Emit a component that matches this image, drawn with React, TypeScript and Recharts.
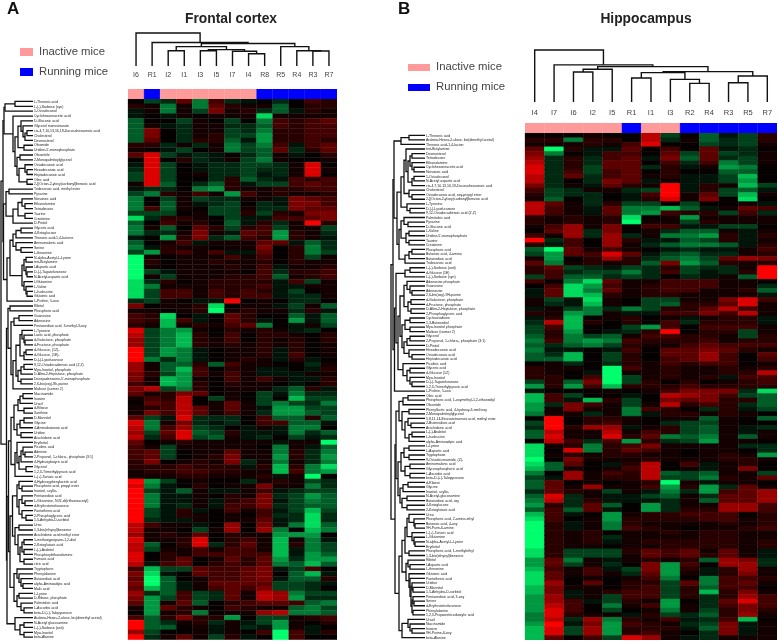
import React from "react";
import { BarChart, Bar, Cell, XAxis, YAxis, ScatterChart, Scatter } from "recharts";

const samplesA = ["I6","R1","I2","I1","I3","I5","I7","I4","R8","R5","R4","R3","R7"];
const samplesB = ["I4","I7","I6","I2","I5","R1","I1","I3","R2","R4","R3","R5","R7"];

const labelsA = ["L-Threonic acid","L-(-)-Sorbose (syn)","1-Octadecanol","Cyclohexaneacetic acid","D-Gluconic acid","Glycerol monostearate","cis-4,7,10,13,16,19-Docosahexaenoic acid","Cholesterol","Desmosterol","Oleamide","Uridine-5'-monophosphate","Oleanitrile","2-Monopalmitoylglycerol","Octadecanoic acid","Hexadecanoic acid","Heptadecanoic acid","Oleic acid","2-[(Octan-2-yloxy)carbonyl]benzoic acid","Tridecanoic acid, methyl ester","Pyrazine","Nonanoic acid","Ethanolamine","Tetradecane","Taurine","Creatinine","D-Pinitol","Glyceric acid","4-Ketoglucose","Threonic acid-1,4-lactone","Aminomalonic acid","Serine","L-threonine","N-alpha-Acetyl-L-Lysine","tert-Butylamine","l-Aspartic acid","D-(-)-Tagatofuranose","N-Acetyl-aspartic acid","l-Glutamine","L-Valine","L-Isoleucine","Glutamic acid","L-Proline, 5-oxo","Ribitol","Phosphoric acid","Guanosine","Adenosine","Pentanedioic acid, 3-methyl-3-oxy","L-Tyrosine","Lactic acid, phosphate","d-Galactose, phosphate","d-Fructose, phosphate","d-Glucose, (1Z)-","d-Glucose, (1E)-","D-(-)-Lyxofuranose","9,12-Octadecadienoic acid (Z,Z)","Myo-Inositol, phosphate","D-Altro-2-Heptulose, phosphate","Deoxyadenosine-5'-monophosphate","2,6-bis(oxy)-9h-purine","Maltose (isomer 2)","Niacinamide","Inosine","Uracil","d-Ribose","Xanthine","D-Mannitol","Glycine","4-Aminobutanoic acid","Uridine","Arachidonic acid","Erythritol","Picolinic acid","Adenine","2-Propanol, 1-chloro-, phosphate (3:1)","4-Hydroxybutyric acid","Glycerol","1,2,3-Trimethylpyruvic acid","L-(+)-Tartaric acid","4-Hydroxyphenylacetic acid","Phosphoric acid, propyl ester","Inositol, scyllo-","Pentanedioic acid","L-Glutamine, N,N'-di(trifluoroacetyl)","d-Erythrotetrofuranose","Pantothenic acid","2-Phosphoglyceric acid","1,5-Anhydro-D-sorbitol","Urea","1,3-bis(ethynyl)benzene","Arachidonic acid methyl ester","1-methoxypropane-1,2-diol","2-Ketoglutaric acid","L-(-)-Arabitol","Phosphorylethanolamine","Fumaric acid","citric acid","Tryptophane","Phenylalanine","Butanedioic acid","alpha-Aminoadipic acid","Malic acid","L-Lysine","D-Ribose, phosphate","Palmitoleic acid","L-Ascorbic acid","beta-D-(+)-Talopyranose","Arabino-Hexos-2-ulose, bis(dimethyl acetal)","N-Acetyl glucosamine","L-(-)-Sorbose (anti)","Myo-Inositol","beta-Alanine"];

const rowsA = [
[0,-3,-2,4,-5,3,-2,-1,0,-2,0,3,2],[2,1,-5,1,-5,4,2,1,1,-4,0,2,2],[-1,1,-5,1,-3,5,1,2,-2,-4,-1,2,1],[-1,0,-1,1,0,1,1,1,-8,1,1,1,1],
[-4,0,0,-3,1,0,-3,0,-5,3,2,3,4],[-4,1,-1,-2,1,1,-2,-2,-4,3,2,3,3],[-4,5,0,-2,1,1,-3,-2,-5,2,2,3,3],[-4,5,0,-2,1,2,-3,-3,-6,2,2,3,3],
[-4,4,0,-2,2,2,-4,-1,-6,2,2,3,2],[2,2,-2,1,-2,1,-5,-3,-5,3,-1,3,4],[1,0,-1,-3,0,1,-5,-3,-4,4,-2,2,4],[4,8,-3,-1,-2,-1,0,-2,-4,1,-1,0,2],
[0,8,0,2,-2,-1,1,-3,-5,1,0,0,1],[-1,8,-3,0,-1,-2,-2,-3,-3,-2,1,8,0],[-2,8,-3,0,-1,-2,-2,-3,-2,-2,1,8,1],[-3,8,-3,0,1,-2,-2,-3,-1,-2,1,8,0],
[-3,8,-3,0,0,-2,2,-4,-2,-1,3,2,3],[1,8,-4,0,-2,-4,2,-1,-3,-3,3,4,3],[-1,-2,-2,0,-5,-6,2,1,1,2,2,3,3],[-3,-5,2,1,3,1,-6,3,1,2,1,1,2],
[-5,0,-3,1,-3,-2,-2,1,1,-1,5,4,3],[-5,0,-4,1,-1,-2,-3,0,-2,-1,5,5,3],[-5,3,-4,1,0,-3,-3,1,-2,-2,5,4,4],[-3,-3,-3,0,1,-3,-3,2,-3,2,1,5,5],
[-8,-2,2,2,1,0,-3,-1,-1,3,3,4,5],[-4,0,3,1,2,0,-4,-1,2,-2,1,9,2],[-5,1,-4,0,4,2,-3,2,3,-3,1,1,-3],[-5,-2,-2,1,5,1,-1,4,3,-6,2,1,-2],
[-1,0,-6,2,5,-2,-4,3,2,-6,2,1,-1],[-4,0,1,3,-1,1,1,1,4,4,-1,-4,-2],[-5,-1,2,1,1,0,1,1,5,0,2,-5,-2],[-3,-6,2,3,1,3,-1,-1,4,0,2,-5,-3],
[-9,1,0,1,1,1,3,1,3,0,2,-3,1],[-9,2,0,1,1,2,1,1,2,0,2,1,1],[-9,1,0,1,1,1,2,1,3,-1,1,1,2],[-9,-3,-1,1,1,1,1,0,3,-2,2,2,3],
[-9,1,-3,1,1,1,2,2,3,-4,1,2,3],[-8,-2,2,0,1,2,2,2,2,-1,3,-3,1],[-8,-5,1,1,1,2,2,2,3,-1,-1,1,1],[-8,-3,3,3,1,3,2,3,2,-1,-3,0,1],
[-8,-3,3,3,1,3,2,3,3,-1,-2,-2,1],[-2,-3,1,0,-1,-1,9,0,1,0,-2,-2,0],[5,0,1,1,2,-8,0,1,1,-1,-3,1,-4],[1,1,0,1,2,-9,1,2,1,1,-2,2,-1],
[3,2,-8,0,-1,0,4,2,0,0,-4,-1,-4],[3,2,-7,3,-1,0,4,2,-1,0,-6,-1,-4],[2,1,-7,1,2,1,3,4,-5,0,-1,1,-3],[8,-3,-5,-6,1,0,2,1,2,1,-1,-2,0],
[7,-3,-5,-7,2,0,3,0,2,2,1,0,2],[6,-3,-5,-7,2,1,3,0,2,1,2,0,2],[6,-3,-5,-7,2,1,2,1,2,1,2,0,1],[9,-3,-6,-5,-1,0,1,1,2,-1,2,0,1],
[9,-3,-6,-5,-1,0,1,1,2,-1,3,0,1],[9,-5,-2,-5,-1,0,1,2,1,-1,2,-1,0],[6,1,-4,-4,2,-4,3,1,1,0,0,-2,1],[6,1,-4,-7,3,0,2,1,-1,-1,0,-1,2],
[5,2,-3,-6,3,1,3,1,-1,-1,-1,1,1],[5,1,-7,-6,1,0,3,1,3,1,-1,-1,2],[3,1,-7,-6,2,0,2,1,1,0,-1,0,2],[5,7,-3,-5,2,0,1,1,1,-2,-4,2,-1],
[4,1,2,5,4,0,1,0,-3,-1,-5,-2,-2],[1,3,2,7,0,-3,1,0,-3,0,-7,-3,-3],[0,4,3,7,0,1,4,1,-3,-5,-3,-2,-5],[1,2,3,7,4,1,4,1,-1,-6,-6,-3,-3],
[1,5,3,7,4,1,3,1,-2,-6,-6,-4,-3],[4,-3,-1,8,-2,-2,-2,0,3,-4,-4,2,-4],[8,-5,1,5,-2,-1,-2,0,3,3,-4,-4,-1],[7,-5,3,6,-3,-2,0,-1,1,-1,-5,-5,0],
[6,-3,4,8,-4,-3,2,-1,-1,-1,-5,-2,-4],[7,-2,3,8,-3,-4,1,-1,-2,0,-3,-1,-2],[4,0,1,2,1,1,1,1,1,-1,1,1,-9],[3,1,-3,1,1,1,1,1,0,-5,1,-1,-4],
[3,4,-3,0,1,1,4,1,1,-5,2,-2,-5],[3,4,-3,0,1,2,5,1,1,-6,2,-2,-6],[2,5,0,1,2,1,5,-2,1,-5,1,-2,-5],[2,2,2,3,2,2,2,-1,2,-7,2,-5,-8],
[1,2,2,3,3,2,2,1,1,-7,3,-5,-6],[1,1,1,2,2,1,1,1,2,-1,1,-9,0],[9,-6,-3,0,1,0,0,-2,1,2,1,-3,-2],[8,-5,-1,0,2,0,1,1,5,1,1,-5,-2],
[9,-3,-1,-4,1,-1,-1,1,3,-1,-2,-3,-3],[9,-5,-1,-1,1,0,2,1,5,-2,-3,-6,-4],[9,-5,-1,-1,1,-1,2,3,5,-1,-3,-5,-4],[9,-5,-1,-2,1,-1,3,3,5,-2,-3,-4,-4],
[9,-3,-1,2,-1,0,3,1,3,-1,-3,-7,-3],[9,-3,-1,2,1,0,1,0,3,-2,-2,-8,-2],[9,-2,-1,-1,1,0,1,1,4,-1,-2,-8,-2],[7,3,1,1,-1,0,6,0,5,-1,-5,-8,-4],
[7,1,1,0,-3,1,6,0,6,-5,0,-7,-5],[6,1,2,1,4,0,2,1,1,-6,-6,-6,0],[8,1,1,2,8,0,2,3,1,-7,1,-5,-1],[7,-4,0,2,8,-2,2,4,1,-7,2,-5,-3],
[7,-3,1,1,3,1,3,3,1,-7,-1,-5,-3],[8,0,2,1,3,3,3,3,3,-7,-1,-6,-4],[8,0,2,4,0,1,4,2,4,-6,-2,-6,-6],[7,-1,3,4,0,2,3,2,4,-5,-4,-7,-4],
[3,-7,-3,-3,4,3,3,4,5,-1,-3,3,0],[5,-8,-1,0,4,3,3,4,5,0,-4,-7,-1],[4,-9,-4,0,1,3,3,4,5,-1,-4,-4,2],[5,-9,-4,-1,1,4,4,4,4,-3,-3,-2,-1],
[4,-7,-4,-1,1,3,4,3,5,-3,-3,-2,0],[6,-2,-4,3,-3,-2,4,1,7,6,-5,-3,-3],[5,-6,-3,3,-3,-2,4,1,7,6,-6,-2,-2],[4,-6,1,4,-4,0,2,3,4,4,3,-4,-5],
[1,-6,4,2,1,0,3,2,1,1,-4,-5,-3],[0,-6,1,2,-5,0,1,1,6,7,-5,-5,-4],[3,-4,2,5,2,2,-6,0,-3,-3,1,2,3],[9,-4,-2,1,2,-2,1,-1,-3,-6,1,0,2],
[9,-4,-4,0,1,-1,1,-2,-1,-6,1,-1,0],[6,-3,0,0,1,-1,1,0,3,-9,3,-1,2],[9,-2,1,4,1,-3,2,-1,0,-9,3,0,0],
];

const labelsB = ["L-Threonic acid","Arabino-Hexos-2-ulose, bis(dimethyl acetal)","Threonic acid-1,4-lacton","tert-Butylamine","Desmosterol","Tetradecane","Ethanolamine","Cyclohexaneacetic acid","Nonanoic acid","1-Octadecanol","N-Acetyl aspartic acid","cis-4,7,10,13,16,19-Docosahexaenoic acid","Cholesterol","Octadecanoic acid, oxy-propyl ester","2-[(Octan-2-yloxy)carbonyl]benzoic acid","L-Tyrosine","D-(-)-Lyxofuranose","9,12-Octadecadienoic acid (Z,Z)","Palmitoleic acid","Pyrazine","D-Gluconic acid","L-Valine","Uridine-5'-monophosphate","Taurine","Creatinine","Phosphoric acid","Butanoic acid, 4-amino","Butanedioic acid","Tridecanoic acid","L-(-)-Sorbose (anti)","d-Glucose (1E)","L-(-)-Sorbose (syn)","Adenosine phosphate","Guanosine","Adenosine","2,6-bis(oxy)-9H-purine","d-Galactose, phosphate","d-Fructose, phosphate","D-Altro-2-Heptulose, phosphate","2-Phosphoglyceric acid","Cyclooctadione","1,3-Butanediol","Myo-Inositol phosphate","Maltose (isomer 2)","Glycerol","2-Propanol, 1-chloro-, phosphate (3:1)","D-Pinitol","Hexadecanoic acid","Octadecanoic acid","Heptadecanoic acid","Picolinic acid","Glyceric acid","d-Glucose (1Z)","Myo-Inositol","D-(-)-Tagatofuranose","1,2,3-Trimethylpyruvic acid","L-Proline, 5-oxo","Oleic acid","Phosphoric acid, 1-oxymethyl-1,2-ethanediyl","Oleamide","Phenyllactic acid, 4-hydroxy-3-methoxy","2-Monopalmitoylglycerol","5,8,11,14-Eicosatetraenoic acid, methyl ester","2-Butenedioic acid","Arachidonic acid","L-(-)-Arabitol","L-Isoleucine","alpha-Aminoadipic acid","L-Lysine","L-Aspartic acid","Tryptophane","9-Octadecenamide, (Z)-","Aminomalonic acid","Glycerophosphoric acid","L-Ascorbic acid","beta-D-(+)-Talopyranose","d-Ribose","Glycine","Inositol, scyllo-","N-Acetyl-glucosamine","Butanedioic acid, oxy","4-Ketoglucose","2-Ketoglutaric acid","Urea","Phosphoric acid, 2-amino-ethyl","Butanoic acid, 4-oxy","9H-Purin-6-amine","L-(+)-Tartaric acid","L-Glutamine","N-alpha-Acetyl-L-Lysine","Erythritol","Phosphoric acid, 1-methylethyl","1,3-bis(ethynyl)benzene","Ribitol","l-Aspartic acid","L-threonine","Glutamic acid","Pantothenic acid","Uridine","D-Mannitol","1,5-Anhydro-D-sorbitol","Pentanedioic acid, 3-oxy","Serine","d-Erythrotetrofuranose","Phenylalanine","1,2,3-Propanetricarboxylic acid","Uracil","Niacinamide","Inosine","9H-Purine-6-oxy","beta-Alanine"];

const rowsB = [
[0,0,0,1,0,0,7,-3,0,-4,-1,-3,2],[2,2,-5,2,2,0,7,-2,1,-4,-2,-3,2],[1,1,1,2,1,3,8,0,0,-3,-2,-3,1],[4,-9,2,-1,-1,4,0,3,0,4,-1,-2,0],
[5,-5,0,-1,3,3,0,4,-3,4,-3,-2,1],[6,-2,2,-2,3,4,-1,5,-4,4,-2,-3,1],[7,-2,2,-2,4,4,0,3,-2,3,-5,-3,1],[8,-2,2,-3,4,4,-2,2,-1,1,-6,-5,0],
[8,-2,3,-3,3,4,0,2,0,0,-4,-4,0],[7,-2,4,-2,3,4,1,2,-1,-1,-3,-7,0],[7,-2,0,-2,5,4,-1,1,-1,-1,-3,-6,0],[5,-2,1,-1,4,2,1,9,-1,2,1,-7,-3],
[3,-3,-2,1,1,-2,-3,9,-1,2,-3,-4,-1],[2,-3,-2,-2,0,-1,3,9,1,4,-3,-7,1],[1,-4,0,-2,0,-1,2,8,1,5,0,-8,0],[7,4,1,-2,2,-3,-3,0,-3,0,0,1,-1],
[7,3,1,-1,4,-5,-5,-7,-4,-1,1,4,3],[7,3,1,-1,4,-5,-6,3,2,2,-3,3,-2],[2,1,2,1,2,-8,0,1,-6,1,1,1,1],[2,1,2,1,2,-9,1,1,-3,2,1,1,1],
[1,3,6,1,5,0,3,3,-1,-1,-3,-3,0],[0,4,6,-2,5,0,1,-2,-4,-4,1,-1,1],[3,1,6,-2,6,-2,1,-5,-5,-6,2,-1,2],[9,-2,3,0,6,2,-1,-1,-4,-3,2,-1,1],
[2,-1,3,0,6,1,-2,-4,-5,-5,-4,-1,2],[-4,-9,4,1,3,1,0,-1,-2,-1,-1,1,3],[-3,-6,4,3,8,4,-1,-3,-4,-2,-2,1,2],[1,-6,0,2,6,2,-2,-4,-5,-3,4,6,5],
[4,-5,1,2,1,2,-4,5,-6,-4,2,1,2],[2,4,-3,-2,-1,-3,-2,2,-3,-2,-2,1,9],[2,3,-2,-3,-3,-5,-2,3,-3,-1,-2,2,9],[-3,3,-4,-4,-2,-3,-2,0,-2,-1,1,-4,9],
[3,0,-5,-8,4,1,1,3,3,3,1,1,0],[0,3,-8,-6,3,1,2,3,3,3,1,1,-2],[-1,4,-8,-5,4,1,2,3,3,1,1,2,-4],[-1,4,-8,-7,2,1,2,2,1,1,1,1,-1],
[1,-3,-1,-8,1,0,-3,-3,1,1,5,8,3],[1,-2,-1,-7,1,0,-3,-4,2,2,4,8,1],[-1,1,-3,-5,-2,-5,-3,2,2,4,7,3,1],[2,1,-6,-5,1,-1,-1,3,3,5,3,7,1],
[-1,2,-7,0,1,2,0,1,-1,1,2,2,-1],[-2,7,-7,2,0,2,0,3,-2,2,2,2,-1],[-3,3,-7,0,0,-3,-6,3,0,3,3,3,1],[-3,2,-6,0,-1,-2,2,9,0,2,2,-3,1],
[-4,2,-5,-3,-4,1,3,3,2,2,1,-3,2],[-5,3,-5,-6,-5,3,2,2,2,3,1,2,2],[-4,-2,-4,-5,-3,2,1,1,3,4,3,3,3],[-5,-1,-1,0,-1,3,0,4,4,5,4,2,1],
[-4,-2,-7,0,-3,2,0,4,4,6,3,0,4],[-4,-4,-7,0,-3,2,0,3,4,6,3,0,3],[0,1,-2,0,-2,2,1,3,2,3,3,0,1],[2,1,1,0,-9,3,1,2,1,1,2,1,2],
[2,1,0,-1,-9,1,1,2,1,1,2,2,7],[2,2,0,3,-9,-3,1,2,1,2,-1,3,3],[-3,2,-4,5,-9,-3,2,0,2,0,1,2,3],[-6,2,-6,3,-7,2,2,2,3,2,2,2,2],
[-1,0,0,0,1,0,1,3,5,5,5,-2,-8],[-7,3,-3,0,0,-1,0,7,6,5,3,-3,-4],[-7,3,-1,-7,2,-3,0,5,4,5,2,2,-4],[-6,-2,5,3,1,-3,1,7,2,3,2,-2,-4],
[-6,1,5,1,1,-5,3,2,0,-2,2,-1,-3],[-5,1,1,-2,1,-5,-1,2,2,1,2,1,0],[0,9,0,2,2,1,0,1,1,-4,1,0,-4],[-3,9,0,2,3,1,0,-2,-3,-3,1,0,0],
[-2,9,2,6,6,-1,1,2,-3,-4,1,-1,-2],[-4,7,1,1,7,1,3,2,-3,-4,1,-1,1],[-4,8,1,1,8,2,4,-5,-4,-5,1,-4,1],[0,7,3,-2,3,-6,2,-2,-3,-6,1,1,0],
[-8,1,2,-5,2,3,5,1,1,1,1,-2,-2],[-8,0,8,-5,2,4,3,1,0,1,1,0,-2],[-8,1,2,1,2,2,1,1,0,1,2,1,-6],[-9,0,5,1,1,1,2,1,1,1,2,2,1],
[-8,-4,4,0,-1,2,7,0,3,-1,1,2,0],[-7,-4,1,0,1,3,7,0,1,-1,1,5,0],[-5,0,6,1,3,2,7,-4,-3,-4,1,1,-3],[-3,-1,6,1,2,2,7,-3,-3,-5,2,1,4],
[-4,4,0,1,0,1,2,-9,1,-1,1,1,0],[-4,4,1,6,1,1,3,-6,2,-6,-2,4,1],[-2,4,2,1,-3,1,-1,-5,-2,-6,3,4,6],[-4,8,-2,1,-1,-1,-3,-4,1,-2,4,4,6],
[-5,7,-2,2,-1,-1,-1,-2,1,-4,4,4,6],[-6,2,-2,4,-4,0,-6,-2,1,1,6,6,3],[-4,3,-4,4,-1,0,-6,-2,2,2,6,6,3],[-7,3,-1,0,-6,1,2,2,3,3,3,0,2],
[-8,3,0,1,-6,2,2,2,2,3,3,1,2],[-9,2,-1,1,-5,2,1,1,1,1,2,1,2],[-9,2,-1,1,-5,3,2,1,0,1,1,2,3],[-9,2,1,2,0,1,1,2,1,2,2,1,1],
[-9,2,1,2,-2,1,1,1,1,2,2,1,1],[-9,2,1,2,-1,1,2,2,2,2,2,1,2],[-9,2,1,1,0,1,1,2,2,2,2,1,2],[-8,2,-3,-3,-3,2,4,3,4,1,4,1,-1],
[-8,2,-3,-3,-3,1,4,3,4,2,4,1,-1],[-6,4,-5,1,-1,1,2,1,2,-4,6,5,-2],[-6,4,-3,1,-2,0,5,-6,3,0,6,6,-2],[-7,3,1,3,-1,-3,5,-6,2,-1,2,6,1],
[-8,4,1,3,1,-2,4,-6,1,-1,2,5,1],[-8,4,0,1,0,1,3,-5,0,-5,3,3,2],[-8,6,0,4,0,2,2,-3,4,-5,3,4,1],[-7,5,1,1,0,2,3,-3,2,-4,3,3,0],
[-7,5,-1,1,2,3,3,-3,2,-7,2,5,1],[-6,6,-1,1,-3,3,3,-3,2,-2,2,6,3],[-6,6,3,-1,-3,2,1,-6,0,-2,4,8,3],[-6,7,3,0,-5,1,3,-6,1,-2,3,5,3],
[-6,8,3,0,-3,0,1,-5,1,-3,2,5,2],[-5,8,2,1,1,-1,2,-3,-2,-4,2,6,1],[-5,7,-2,6,-5,2,1,3,-1,-2,3,-7,0],[-6,9,-1,5,-6,3,2,1,-2,-3,5,-1,1],
[-7,8,-3,6,-6,2,2,2,-1,-4,5,-1,1],[-7,8,-3,6,-6,2,3,1,0,-2,5,-1,1],[-7,4,0,3,-3,8,6,1,-1,-2,1,1,1],
];

// Dendrograms as nested [merge height, left, right]; 0 is a leaf.
type Tree = 0 | [number, Tree, Tree];

const colTreeA: Tree = [32.3, 0, [23, 0, [22,
  [19, [15, 0, 0], [16, [15, 0, 0], [14.5, 0, [12, 0, 0]]]],
  [19, 0, [15, 0, [14.7, 0, 0]]]]]];

const colTreeB: Tree = [51.4, 0, [36.7, 0, [35,
  [32.4, [29.7, 0, 0], 0],
  [30, [29, [23.7, 0, 0], [22.4, 0, [18.4, 0, 0]]], [25.7, [19, 0, 0], 0]]]]];

const rowTreeA: Tree = [1,
  [3,
    [4, [5, [15, 0, 0], 0],
      [13, 0, [15,
        [18, [21, 0, [23, 0, [25, [27, 0, 0], 0]]], [24, 0, 0]],
        [17, [20, 0, 0], [19, [25, 0, [27, 0, 0]], [27, 0, 0]]]]]],
    [3.5,
      [6, [9, 0, 0], [13, [18, [22, 0, [25, 0, 0]], [25, 0, 0]], 0]],
      [7, [10,
        [13, [16, [21, 0, 0], 0], [16, 0, [21, 0, 0]]],
        [22, [24, [26, 0, 0], [26, 0, [27, 0, 0]]], [24, 0, [26, 0, [27, 0, 0]]]]], 0]]],
  [6.5,
    [8, [10, 0, 0], [11, [14, [19, 0, 0], 0],
      [13, [16,
        [20, [22, 0, [24, 0, [25, 0, 0]]], [24, [26, 0, 0], 0]],
        [18, [21, [24, 0, 0], 0], [21, 0, 0]]], 0]]],
    [7,
      [8.5,
        [11,
          [14, [18, [20, [23, 0, 0], 0], [24, 0, 0]], [17, [20, [24, 0, 0], 0], [21, 0, 0]]],
          [15, [17, 0, [19, [21, [23, 0, [25, 0, 0]], 0], [26, 0, 0]]], 0]],
        [10,
          [12.5,
            [17, [19, 0, [22, 0, 0]], [19, [22, 0, [25, 0, 0]], [22, 0, [26, 0, 0]]]],
            [15, [19, 0, 0], [18, 0, [20, [22, [24, 0, 0], [24, 0, 0]], [24, 0, 0]]]]],
          [14, [17, 0, [19, 0, [21, 0, [23, 0, 0]]]], [17, [19, 0, 0], [21, 0, [24, 0, 0]]]]]],
      [15, 0, [20, [24, 0, 0], [24, 0, 0]]]]]];

const rowTreeB: Tree = [6,
  [8,
    [9, [16, [24, 0, 0], 0],
      [12,
        [16, [19, [21, 0, [23, [25, [27, 0, 0], [27, 0, [29, 0, 0]]], [27, [29, 0, 0], 0]]], [24, 0, [27, 0, 0]]], [22, 0, [25, 0, 0]]],
        [14, [16, [19, 0, [23, 0, 0]], [21, [24, 0, 0], [24, 0, 0]]], [20, [24, [27, 0, 0], 0], 0]]]],
    [9.5, [11, [20, [25, 0, 0], 0],
      [13,
        [15, [19, [22, 0, [25, 0, [27, 0, 0]]], [23, [26, 0, 0], [26, 0, 0]]],
          [17, [20, [25, 0, 0], [25, 0, 0]], [19, [22, [25, 0, 0], 0], [24, 0, [27, 0, 0]]]]],
        [18, 0, [22, [25, 0, 0], [25, 0, [27, 0, 0]]]]]], 0]],
  [10,
    [11,
      [14, [18, [23, 0, 0], 0], [17, [24, 0, 0], [20, [23, 0, [26, 0, 0]], [24, [27, 0, 0], 0]]]],
      [13, [16, [19, [24, 0, 0], [24, 0, 0]], [20, [25, 0, 0], [25, 0, 0]]],
        [15, [18, [23, 0, 0], 0], [17, [22, 0, 0], [22, 0, 0]]]]],
    [14,
      [17,
        [20, [22, [24, 0, [29, 0, [30, 0, 0]]], [27, 0, [29, 0, [30, 0, 0]]]], [24, 0, 0]],
        [21, [23, 0, [25, 0, 0]], [24, 0, [25, 0, [26, [27, 0, [28, 0, 0]], [27, [28, 0, [29, 0, 0]], [28, 0, 0]]]]]]],
      [17, [23, 0, [25, 0, [27, 0, 0]]], 0]]]];

const FONT = '"Liberation Sans", Arial, sans-serif';
const PINK = "#ff9a9a";
const BLUE = "#0000ff";
const LINE = "#111";

function heat(v: number) {
  const t = Math.pow(Math.abs(v) / 9, 1.3);
  if (v >= 0) return `rgb(${Math.round(6 + 249 * t)},0,0)`;
  return `rgb(0,${Math.round(6 + 249 * t)},${Math.round(3 + 105 * t)})`;
}

type Pt = { x: number; y: number };

// Walks a tree, numbering leaves in order and placing each merge at its children's midpoint.
function links(tree: Tree, leafHeight: number, horizontal: boolean): Pt[][] {
  let next = 0;
  const out: Pt[][] = [];
  const at = (pos: number, h: number): Pt => (horizontal ? { x: h, y: pos } : { x: pos, y: h });
  const walk = (n: Tree): { pos: number; h: number } => {
    if (n === 0) return { pos: next++, h: leafHeight };
    const l = walk(n[1]);
    const r = walk(n[2]);
    out.push([at(l.pos, l.h), at(l.pos, n[0]), at(r.pos, n[0]), at(r.pos, r.h)]);
    return { pos: (l.pos + r.pos) / 2, h: n[0] };
  };
  walk(tree);
  return out;
}

const place = (left: number, top: number): React.CSSProperties => ({ position: "absolute", left, top });

function Dendrogram({ tree, samples, left, top, width, height, maxH, fontSize, tickMargin }: any) {
  const ls = links(tree, 0, false);
  const ticks = samples.map((_: string, i: number) => i);
  return (
    <div style={place(left, top)}>
      <ScatterChart width={width} height={height} margin={{ top: 1, right: 0, bottom: 0, left: 0 }}>
        <XAxis type="number" dataKey="x" domain={[-0.5, samples.length - 0.5]} ticks={ticks} interval={0}
          tickFormatter={(i: number) => samples[i]} axisLine={false} tickLine={false} height={18} tickMargin={tickMargin}
          tick={{ fontSize, fill: "#444", fontFamily: FONT }} />
        <YAxis type="number" dataKey="y" domain={[0, maxH]} hide />
        {ls.map((pts, i) => (
          <Scatter key={i} data={pts} line={{ stroke: LINE, strokeWidth: 1.4 }} shape={() => <g />} isAnimationActive={false} />
        ))}
      </ScatterChart>
    </div>
  );
}

function RowTree({ tree, left, top, width, height, count, leafAt }: any) {
  const ls = links(tree, leafAt, true);
  return (
    <div style={place(left, top)}>
      <ScatterChart width={width} height={height} margin={{ top: 0, right: 0, bottom: 0, left: 0 }}>
        <XAxis type="number" dataKey="x" domain={[0, width]} hide />
        <YAxis type="number" dataKey="y" domain={[-0.5, count - 0.5]} reversed hide />
        {ls.map((pts, i) => (
          <Scatter key={i} data={pts} line={{ stroke: LINE, strokeWidth: 1.3 }} shape={() => <g />} isAnimationActive={false} />
        ))}
      </ScatterChart>
    </div>
  );
}

function GroupBar({ samples, left, top, width, height }: any) {
  const row: any = { name: "group" };
  samples.forEach((s: string) => (row[s] = 1));
  return (
    <div style={place(left, top)}>
      <BarChart layout="vertical" width={width} height={height} data={[row]} barCategoryGap={0} margin={{ top: 0, right: 0, bottom: 0, left: 0 }}>
        <XAxis type="number" domain={[0, samples.length]} hide />
        <YAxis type="category" dataKey="name" hide />
        {samples.map((s: string) => {
          const c = s[0] === "I" ? PINK : BLUE;
          return <Bar key={s} dataKey={s} stackId="g" fill={c} stroke={c} strokeWidth={0.3} isAnimationActive={false} />;
        })}
      </BarChart>
    </div>
  );
}

function Heatmap({ samples, labels, rows, left, top, width, height, labelWidth, fontSize }: any) {
  const data = rows.map((_: number[], i: number) => {
    const d: any = { name: labels[i] };
    samples.forEach((s: string) => (d[s] = 1));
    return d;
  });
  const tick = (p: any) => (
    <text x={0} y={p.y} dy="0.35em" fontSize={fontSize} fill="#222" fontFamily={FONT} textAnchor="start">{p.payload.value}</text>
  );
  return (
    <div style={place(left, top)}>
      <BarChart layout="vertical" width={width} height={height} data={data} barCategoryGap={0} margin={{ top: 0, right: 0, bottom: 0, left: 0 }}>
        <XAxis type="number" domain={[0, samples.length]} hide />
        <YAxis type="category" dataKey="name" width={labelWidth} interval={0} axisLine={false} tickLine={false} tick={tick} />
        {samples.map((s: string, j: number) => (
          <Bar key={s} dataKey={s} stackId="h" isAnimationActive={false}>
            {rows.map((r: number[], i: number) => (
              <Cell key={i} fill={heat(r[j])} stroke={heat(r[j])} strokeWidth={0.3} />
            ))}
          </Bar>
        ))}
      </BarChart>
    </div>
  );
}

function Txt({ x, y, size, bold, color, center, children }: any) {
  return (
    <div style={{ position: "absolute", left: center ? x - 100 : x, top: y - size * 0.6, width: center ? 200 : undefined, textAlign: center ? "center" : "left",
      fontSize: size, lineHeight: `${size * 1.2}px`, fontWeight: bold ? 700 : 400, color, whiteSpace: "nowrap", fontFamily: FONT }}>{children}</div>
  );
}

function PanelLetter({ x, children }: any) {
  return (
    <div style={{ position: "absolute", left: x, top: 0, fontSize: 17, lineHeight: "17px", fontWeight: 700, color: "#111", fontFamily: FONT }}>{children}</div>
  );
}

function Swatch({ x, y, w, h, c }: any) {
  return <div style={{ position: "absolute", left: x, top: y, width: w, height: h, background: c }} />;
}

export default function App() {
  return (
    <div style={{ position: "absolute", left: 0, top: 0, width: 778, height: 642, background: "#fff", overflow: "hidden", filter: "blur(0.4px)" }}>
      <PanelLetter x={7}>A</PanelLetter>
      <PanelLetter x={398}>B</PanelLetter>
      <Txt x={231} y={19.5} size={13.8} bold center color="#222">Frontal cortex</Txt>
      <Txt x={646} y={19.5} size={13.8} bold center color="#222">Hippocampus</Txt>

      <Swatch x={20} y={48} w={13} h={7.5} c={PINK} />
      <Txt x={39} y={51.5} size={11.3} color="#444">Inactive mice</Txt>
      <Swatch x={20} y={68} w={13} h={7.5} c={BLUE} />
      <Txt x={39} y={72} size={11.3} color="#444">Running mice</Txt>
      <Swatch x={408} y={63.5} w={22} h={7.5} c={PINK} />
      <Txt x={436} y={66.5} size={11.3} color="#444">Inactive mice</Txt>
      <Swatch x={408} y={83.5} w={22} h={7.5} c={BLUE} />
      <Txt x={436} y={87} size={11.3} color="#444">Running mice</Txt>

      <Dendrogram tree={colTreeA} samples={samplesA} left={128} top={31.5} width={209} height={52} maxH={32.3} fontSize={7} tickMargin={0.5} />
      <GroupBar samples={samplesA} left={128} top={89} width={209} height={10} />
      <RowTree tree={rowTreeA} left={0} top={99.3} width={34} height={540.6} count={rowsA.length} leafAt={33} />
      <Heatmap samples={samplesA} labels={labelsA} rows={rowsA} left={34} top={99.3} width={303} height={540.6} labelWidth={94} fontSize={3.5} />

      <Dendrogram tree={colTreeB} samples={samplesB} left={525} top={49} width={252} height={71} maxH={51.4} fontSize={7.5} tickMargin={1.5} />
      <GroupBar samples={samplesB} left={525} top={123} width={252} height={10} />
      <RowTree tree={rowTreeB} left={385} top={133} width={41} height={507} count={rowsB.length} leafAt={40} />
      <Heatmap samples={samplesB} labels={labelsB} rows={rowsB} left={426} top={133} width={351} height={507} labelWidth={99} fontSize={3.5} />
    </div>
  );
}
